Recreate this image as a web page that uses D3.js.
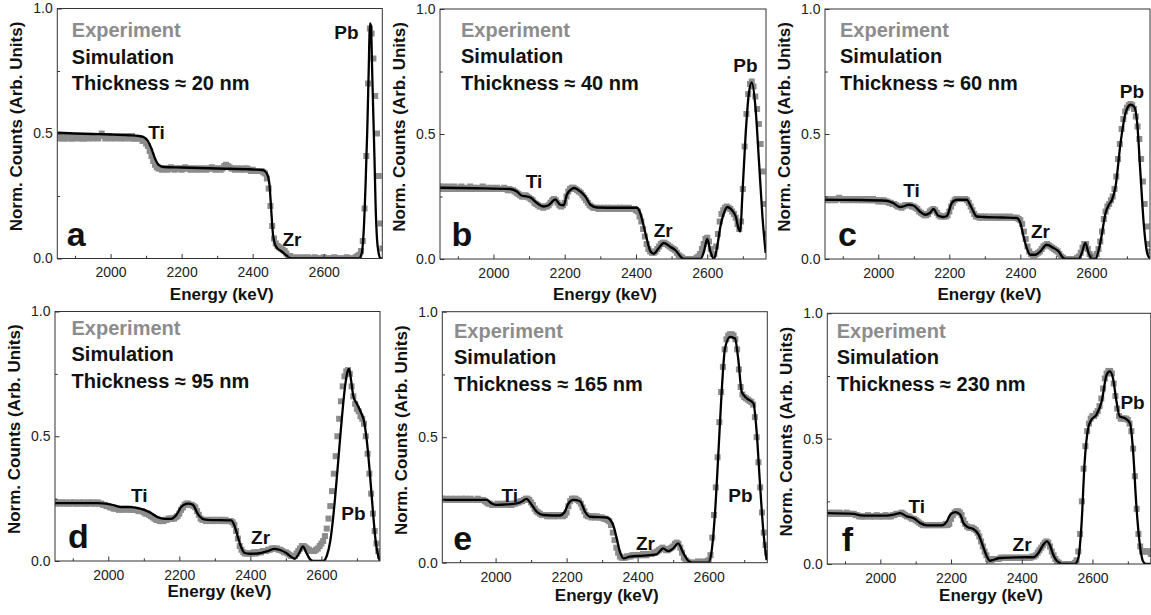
<!DOCTYPE html>
<html>
<head>
<meta charset="utf-8">
<script src="https://cdn.jsdelivr.net/npm/d3@7"></script>
<style>
  body { margin: 0; background: #fff; }
  svg { display: block; font-family: "Liberation Sans", Arial, sans-serif; }
</style>
</head>
<body>
<svg id="chart" width="1151" height="615"></svg>
<script>
// ---------- axes ----------
const energyDomain = [1850, 2765];
const xMajorTicks = [2000, 2200, 2400, 2600];
const xMinorTicks = [1900, 2100, 2300, 2500, 2700];
const yMajorTicks = [0, 0.5, 1.0];
const yMinorTicks = [0.25, 0.75];

// ---------- panels ----------
const panelLetters = ["a", "b", "c", "d", "e", "f"];
const thicknessNm = [20, 40, 60, 95, 165, 230];

// Experimental spectra: one value per 5 keV channel, 1850 ... 2765 keV
const channelStart = 1850, channelStep = 5;

const expCountsA = [
  .49,.48,.49,.48,.48,.49,.48,.49,.48,.48,.49,.49,.48,.49,.48,.48,.49,.48,.49,.49,
  .48,.49,.49,.48,.49,.50,.49,.48,.49,.49,.48,.49,.49,.48,.49,.49,.48,.49,.48,.49,
  .49,.48,.49,.48,.48,.48,.48,.48,.47,.47,.46,.45,.43,.41,.39,.375,.365,.36,.36,.355,
  .36,.36,.355,.36,.365,.36,.355,.36,.36,.36,.355,.36,.365,.36,.36,.355,.36,.36,.355,.36,
  .36,.355,.36,.36,.355,.36,.36,.365,.36,.355,.36,.36,.355,.36,.37,.375,.37,.365,.36,.36,
  .355,.36,.36,.355,.36,.355,.36,.36,.355,.35,.355,.35,.35,.35,.35,.35,.345,.34,.32,.28,
  .21,.13,.08,.06,.05,.045,.04,.035,.03,.02,.01,.01,.005,0,0,.005,0,0,.005,0,
  0,.005,0,0,0,.005,0,0,0,0,.005,0,0,0,0,0,.005,0,0,0,
  0,0,0,.005,0,0,0,0,.005,.01,.015,.03,.07,.2,.41,.7,.92,.9,.8,.65,
  .5,.33,.14,.04
];
const expCountsB = [
  .29,.28,.29,.285,.28,.29,.28,.285,.29,.28,.285,.28,.29,.28,.285,.28,.28,.29,.28,.285,
  .28,.285,.28,.28,.29,.28,.285,.28,.28,.285,.28,.28,.285,.28,.28,.28,.285,.28,.275,.28,
  .275,.275,.27,.265,.26,.255,.25,.25,.255,.25,.245,.24,.235,.225,.22,.215,.21,.21,.205,.21,
  .21,.215,.225,.235,.24,.235,.225,.215,.21,.215,.225,.25,.27,.28,.285,.285,.28,.275,.27,.265,
  .255,.245,.235,.225,.215,.21,.205,.205,.205,.2,.205,.2,.205,.2,.205,.2,.205,.2,.2,.205,
  .2,.205,.2,.205,.2,.2,.205,.2,.2,.2,.195,.19,.17,.15,.12,.09,.06,.04,.03,.025,
  .025,.03,.04,.05,.06,.065,.065,.06,.055,.05,.045,.04,.035,.025,.015,.01,.005,0,0,0,
  0,0,0,0,.005,.01,.02,.04,.06,.08,.085,.07,.04,.02,.02,.05,.1,.15,.18,.195,
  .205,.21,.205,.2,.19,.18,.165,.14,.12,.15,.28,.45,.58,.66,.7,.71,.69,.65,.6,.54,
  .46,.35,.22,.1
];
const expCountsC = [
  .24,.235,.24,.235,.24,.24,.235,.24,.245,.24,.235,.24,.24,.235,.24,.24,.235,.24,.24,.235,
  .24,.235,.24,.235,.24,.235,.235,.24,.235,.235,.23,.235,.23,.235,.23,.23,.225,.225,.22,.22,
  .215,.21,.21,.205,.21,.215,.215,.215,.215,.21,.21,.205,.2,.19,.185,.18,.175,.175,.18,.19,
  .195,.2,.195,.185,.175,.17,.17,.17,.17,.175,.19,.21,.225,.235,.24,.24,.24,.24,.24,.24,
  .235,.225,.21,.195,.18,.17,.17,.165,.17,.165,.17,.165,.17,.165,.165,.17,.165,.165,.17,.165,
  .165,.17,.165,.165,.17,.165,.165,.165,.165,.16,.155,.14,.11,.08,.05,.03,.02,.015,.015,.02,
  .025,.03,.04,.05,.055,.06,.055,.05,.045,.04,.035,.03,.02,.01,.005,0,0,0,0,0,
  0,0,.005,.01,.025,.045,.06,.06,.04,.02,.01,.005,.01,.02,.04,.07,.11,.16,.19,.21,
  .22,.235,.25,.28,.33,.4,.46,.52,.56,.59,.605,.615,.62,.615,.6,.57,.53,.48,.4,.31,
  .22,.13,.06,.03
];
const expCountsD = [
  .235,.23,.235,.23,.235,.23,.235,.23,.23,.235,.23,.235,.23,.23,.235,.23,.235,.23,.23,.235,
  .23,.235,.23,.23,.235,.23,.23,.225,.225,.22,.22,.215,.215,.21,.21,.21,.205,.21,.205,.21,
  .21,.205,.21,.205,.205,.205,.205,.2,.2,.2,.195,.19,.19,.185,.18,.175,.17,.165,.165,.16,
  .16,.16,.165,.165,.17,.17,.17,.17,.175,.18,.19,.205,.215,.225,.23,.23,.225,.225,.22,.215,
  .2,.185,.17,.165,.165,.16,.165,.16,.165,.165,.16,.165,.165,.16,.165,.16,.165,.16,.16,.16,
  .155,.145,.12,.09,.06,.045,.035,.03,.03,.03,.03,.03,.035,.03,.035,.035,.035,.04,.04,.04,
  .045,.045,.05,.05,.05,.05,.045,.045,.04,.035,.035,.03,.025,.02,.02,.02,.03,.04,.05,.06,
  .06,.055,.05,.045,.04,.04,.04,.045,.05,.06,.07,.08,.1,.13,.17,.22,.28,.35,.42,.5,
  .57,.64,.7,.74,.76,.765,.75,.7,.66,.63,.61,.6,.58,.57,.55,.5,.43,.35,.27,.19,
  .12,.07,.04,.02
];
const expCountsE = [
  .255,.25,.255,.25,.25,.255,.25,.25,.255,.25,.25,.255,.25,.255,.25,.25,.255,.25,.25,.25,
  .255,.25,.25,.25,.245,.24,.235,.235,.23,.23,.23,.235,.23,.23,.235,.23,.235,.23,.235,.23,
  .235,.235,.24,.24,.245,.245,.25,.255,.255,.25,.24,.23,.215,.205,.2,.195,.19,.19,.19,.185,
  .19,.185,.19,.185,.19,.185,.19,.19,.185,.19,.2,.225,.245,.255,.255,.255,.25,.245,.235,.22,
  .205,.19,.185,.185,.18,.185,.18,.185,.18,.18,.18,.175,.175,.17,.165,.15,.12,.09,.06,.04,
  .025,.02,.02,.02,.025,.025,.025,.03,.03,.03,.03,.03,.03,.035,.03,.03,.035,.035,.035,.04,
  .04,.045,.05,.055,.06,.055,.05,.05,.055,.06,.065,.075,.08,.075,.06,.04,.02,.01,.005,0,
  0,0,0,0,.005,0,0,.005,0,.005,.01,.03,.1,.19,.3,.42,.56,.68,.78,.85,
  .89,.905,.91,.91,.905,.89,.85,.77,.7,.67,.66,.655,.65,.645,.64,.63,.58,.5,.4,.3,
  .2,.12,.07,.04
];
const expCountsF = [
  .2,.205,.2,.2,.205,.2,.2,.205,.2,.2,.2,.205,.2,.2,.2,.2,.195,.195,.19,.19,
  .19,.19,.19,.195,.19,.19,.19,.19,.195,.19,.19,.19,.19,.195,.19,.19,.19,.195,.195,.2,
  .2,.2,.205,.2,.195,.19,.19,.185,.18,.18,.175,.17,.165,.16,.155,.155,.155,.155,.155,.155,
  .155,.155,.155,.155,.155,.155,.155,.16,.155,.16,.18,.195,.205,.21,.21,.205,.195,.175,.16,.15,
  .145,.145,.145,.14,.135,.125,.11,.09,.07,.05,.035,.02,.015,.015,.02,.02,.02,.02,.025,.025,
  .025,.025,.025,.025,.025,.025,.025,.025,.025,.025,.025,.025,.025,.025,.025,.025,.03,.03,.035,.045,
  .055,.065,.075,.085,.09,.085,.07,.05,.035,.02,.01,.005,0,0,0,0,0,0,0,0,
  .005,.015,.05,.12,.25,.38,.47,.53,.56,.58,.59,.59,.6,.61,.63,.66,.7,.74,.76,.77,
  .77,.76,.72,.67,.62,.59,.58,.58,.58,.58,.575,.56,.53,.46,.35,.22,.12,.07,.05,.05,
  .05,.05,.05,.04
];

// Simulated spectra (energy in keV, normalised counts)
const simEnergyA = [1850,1900,1950,2000,2050,2080,2095,2105,2115,2125,2135,2150,2200,2300,2400,2430,2440,2447,2452,2457,2462,2470,2482,2495,2510,2700,2707,2713,2718,2723,2727,2730,2733,2737,2740,2743,2746,2750,2755,2760,2765];
const simCountsA = [.503,.5,.498,.496,.493,.49,.484,.47,.44,.4,.375,.366,.364,.36,.356,.353,.34,.3,.2,.1,.06,.04,.028,.012,0,0,.02,.12,.3,.53,.77,.94,.93,.72,.56,.4,.22,.08,.02,0,0];

const simEnergyB = [1850,1950,2047,2066,2080,2094,2105,2122,2141,2155,2169,2174,2187,2197,2206,2220,2226,2244,2258,2272,2291,2350,2403,2412,2422,2431,2441,2450,2464,2478,2497,2511,2525,2534,2581,2591,2600,2609,2619,2628,2637,2647,2656,2670,2680,2689,2693,2698,2708,2717,2725,2736,2745,2755,2764];
const simCountsB = [.285,.283,.28,.27,.253,.25,.245,.224,.21,.215,.235,.238,.217,.215,.257,.28,.284,.27,.25,.217,.206,.205,.205,.184,.13,.077,.03,.021,.044,.064,.048,.035,.01,0,0,.03,.08,.03,0,.05,.13,.184,.208,.194,.17,.117,.11,.237,.503,.663,.706,.597,.397,.17,.024];

const simEnergyC = [1850,1950,2023,2042,2061,2070,2085,2099,2117,2132,2146,2155,2169,2183,2193,2207,2221,2249,2263,2277,2296,2350,2390,2400,2409,2418,2428,2442,2456,2474,2493,2508,2517,2527,2564,2573,2583,2592,2602,2611,2625,2640,2649,2658,2668,2682,2696,2710,2720,2729,2738,2748,2757,2766];
const simCountsC = [.237,.236,.233,.224,.208,.21,.217,.214,.19,.177,.185,.2,.173,.168,.172,.224,.237,.237,.204,.17,.168,.166,.164,.144,.09,.044,.017,.017,.03,.057,.044,.03,.01,0,0,.024,.064,.024,0,0,.064,.184,.217,.237,.29,.463,.583,.617,.61,.543,.344,.13,.024,0];

const simEnergyD = [1850,1970,1998,2017,2036,2064,2092,2116,2139,2158,2177,2191,2205,2219,2226,2238,2252,2266,2280,2346,2355,2365,2374,2384,2398,2421,2450,2468,2482,2501,2515,2525,2539,2548,2558,2567,2576,2605,2615,2625,2635,2645,2655,2665,2672,2678,2684,2690,2700,2710,2720,2728,2736,2745,2752,2760,2765];
const simCountsD = [.232,.232,.229,.223,.216,.216,.209,.196,.176,.169,.169,.183,.216,.229,.23,.225,.189,.169,.165,.163,.143,.096,.056,.032,.029,.03,.04,.049,.045,.032,.016,.009,.036,.059,.032,.009,0,0,.02,.08,.2,.36,.53,.68,.75,.77,.72,.66,.63,.6,.56,.48,.36,.2,.09,.02,0];

const simEnergyE = [1850,1975,1989,2003,2031,2059,2073,2087,2101,2116,2134,2181,2195,2205,2219,2238,2252,2266,2313,2331,2341,2350,2360,2378,2416,2453,2472,2486,2500,2514,2528,2543,2552,2599,2608,2618,2627,2636,2646,2660,2674,2683,2693,2707,2726,2735,2744,2754,2763];
const simCountsE = [.25,.25,.236,.23,.232,.236,.243,.254,.232,.203,.19,.188,.203,.236,.25,.245,.203,.183,.18,.15,.097,.044,.017,.024,.028,.033,.057,.046,.057,.077,.04,.007,0,0,.044,.203,.429,.668,.854,.9,.893,.814,.681,.655,.635,.522,.323,.124,.01];

const simEnergyF = [1850,1925,1944,1962,2019,2038,2056,2075,2094,2113,2132,2174,2188,2198,2212,2226,2235,2249,2263,2278,2292,2301,2310,2320,2339,2414,2433,2447,2461,2471,2480,2489,2499,2508,2513,2550,2560,2569,2578,2588,2597,2611,2626,2640,2649,2658,2668,2677,2691,2706,2715,2724,2734,2743,2752,2765];
const simCountsF = [.203,.2,.194,.193,.193,.197,.203,.19,.183,.163,.154,.154,.17,.197,.207,.197,.163,.146,.14,.117,.064,.031,.013,.017,.024,.027,.027,.044,.077,.09,.074,.037,.013,.004,0,0,.024,.157,.409,.542,.575,.595,.648,.754,.768,.741,.648,.588,.582,.562,.449,.236,.077,.011,0,0];

// Element edge annotations: [label, energy, counts] of the text anchor
const peakLabelsA = [["Ti", 2106, .48], ["Zr", 2484, .05], ["Pb", 2630, .88]];
const peakLabelsB = [["Ti", 2091, .284], ["Zr", 2450, .088], ["Pb", 2673, .75]];
const peakLabelsC = [["Ti", 2070, .248], ["Zr", 2430, .084], ["Pb", 2680, .646]];
const peakLabelsD = [["Ti", 2064, .236], ["Zr", 2402, .067], ["Pb", 2656, .165]];
const peakLabelsE = [["Ti", 2017, .243], ["Zr", 2395, .05], ["Pb", 2655, .243]];
const peakLabelsF = [["Ti", 2080, .203], ["Zr", 2374, .053], ["Pb", 2679, .619]];

// ---------- layout of the 2 x 3 grid ----------
const frames = [
  { l: 57.3, t: 8.5, w: 325, h: 250, legX: 14.5, legY: 28.5, letX: 9.5, titleY: 41 },
  { l: 440, t: 9, w: 326, h: 250, legX: 21, legY: 27.5, letX: 11.5, titleY: 41 },
  { l: 825, t: 9, w: 325, h: 250, legX: 15, legY: 27.5, letX: 13, titleY: 41 },
  { l: 55, t: 311.5, w: 325, h: 249.5, legX: 16.5, legY: 23, letX: 13, titleY: 36 },
  { l: 442.3, t: 311.7, w: 325, h: 251, legX: 11.7, legY: 26, letX: 11, titleY: 38 },
  { l: 827.3, t: 313.3, w: 323.5, h: 250.7, legX: 9.4, legY: 24.4, letX: 14.5, titleY: 37 }
];

const panels = [
  { exp: expCountsA, simE: simEnergyA, simV: simCountsA, labels: peakLabelsA },
  { exp: expCountsB, simE: simEnergyB, simV: simCountsB, labels: peakLabelsB },
  { exp: expCountsC, simE: simEnergyC, simV: simCountsC, labels: peakLabelsC },
  { exp: expCountsD, simE: simEnergyD, simV: simCountsD, labels: peakLabelsD },
  { exp: expCountsE, simE: simEnergyE, simV: simCountsE, labels: peakLabelsE },
  { exp: expCountsF, simE: simEnergyF, simV: simCountsF, labels: peakLabelsF }
];

const GRAY = "#8c8c8c";
const INK = "#111";
const svg = d3.select("#chart");

panels.forEach((p, k) => {
  const f = frames[k];
  const x = d3.scaleLinear().domain(energyDomain).range([f.l, f.l + f.w]);
  const y = d3.scaleLinear().domain([0, 1]).range([f.t + f.h, f.t]);
  const g = svg.append("g");

  const clipId = "clip" + k;
  g.append("clipPath").attr("id", clipId)
    .append("rect").attr("x", f.l).attr("y", f.t).attr("width", f.w).attr("height", f.h);

  const plot = g.append("g").attr("clip-path", `url(#${clipId})`);

  // experimental channels as grey squares
  const expData = p.exp.map((v, i) => ({ e: channelStart + i * channelStep, v }));
  const sq = 6;
  plot.append("g").selectAll("rect").data(expData).join("rect")
    .attr("x", d => x(d.e) - sq / 2)
    .attr("y", d => y(d.v) - sq / 2)
    .attr("width", sq).attr("height", sq)
    .attr("fill", GRAY);

  // simulated spectrum
  const simData = p.simE.map((e, i) => ({ e, v: p.simV[i] }));
  plot.append("path").datum(simData)
    .attr("fill", "none").attr("stroke", "#000").attr("stroke-width", 2.3)
    .attr("stroke-linejoin", "round")
    .attr("d", d3.line().x(d => x(d.e)).y(d => y(d.v)).curve(d3.curveMonotoneX));

  // axes (ticks point inward)
  const xAxis = g.append("g").attr("transform", `translate(0,${f.t + f.h})`)
    .call(d3.axisBottom(x).tickValues(xMajorTicks).tickSize(-4.5).tickPadding(9).tickFormat(d3.format("d")));
  const xMinor = g.append("g").attr("transform", `translate(0,${f.t + f.h})`)
    .call(d3.axisBottom(x).tickValues(xMinorTicks).tickSize(-2.7).tickFormat(""));
  const yAxis = g.append("g").attr("transform", `translate(${f.l},0)`)
    .call(d3.axisLeft(y).tickValues(yMajorTicks).tickSize(-4.5).tickPadding(4.5).tickFormat(d3.format(".1f")));
  const yMinor = g.append("g").attr("transform", `translate(${f.l},0)`)
    .call(d3.axisLeft(y).tickValues(yMinorTicks).tickSize(-2.7).tickFormat(""));
  [xAxis, xMinor, yAxis, yMinor].forEach(a => {
    a.select(".domain").remove();
    a.selectAll("line").attr("stroke", "#333");
    a.selectAll("text").attr("font-size", 14).attr("fill", "#222")
      .attr("font-family", "'Liberation Sans', Arial, sans-serif");
  });

  // plot frame
  g.append("rect").attr("x", f.l).attr("y", f.t).attr("width", f.w).attr("height", f.h)
    .attr("fill", "none").attr("stroke", "#333").attr("stroke-width", 1);

  // axis titles
  g.append("text")
    .attr("x", f.l + f.w / 2 + 2).attr("y", f.t + f.h + f.titleY)
    .attr("text-anchor", "middle").attr("font-size", 17).attr("font-weight", "bold").attr("fill", INK)
    .text("Energy (keV)");
  g.append("text")
    .attr("transform", `translate(${f.l - 35},${f.t + f.h / 2 - 7}) rotate(-90)`)
    .attr("text-anchor", "middle").attr("font-size", 17).attr("font-weight", "bold").attr("fill", INK)
    .text("Norm. Counts (Arb. Units)");

  // legend block
  const legend = [
    { t: "Experiment", c: GRAY },
    { t: "Simulation", c: INK },
    { t: `Thickness \u2248 ${thicknessNm[k]} nm`, c: INK }
  ];
  g.append("g").selectAll("text").data(legend).join("text")
    .attr("x", f.l + f.legX)
    .attr("y", (d, i) => f.t + f.legY + i * 26.5)
    .attr("font-size", 20).attr("font-weight", "bold")
    .attr("fill", d => d.c)
    .text(d => d.t);

  // element labels
  g.append("g").selectAll("text").data(p.labels).join("text")
    .attr("x", d => x(d[1])).attr("y", d => y(d[2]))
    .attr("font-size", 19).attr("font-weight", "bold").attr("fill", INK)
    .text(d => d[0]);

  // panel letter
  g.append("text")
    .attr("x", f.l + f.letX).attr("y", f.t + f.h - 13)
    .attr("font-size", 34).attr("font-weight", "bold").attr("fill", INK)
    .text(panelLetters[k]);
});
</script>
</body>
</html>
